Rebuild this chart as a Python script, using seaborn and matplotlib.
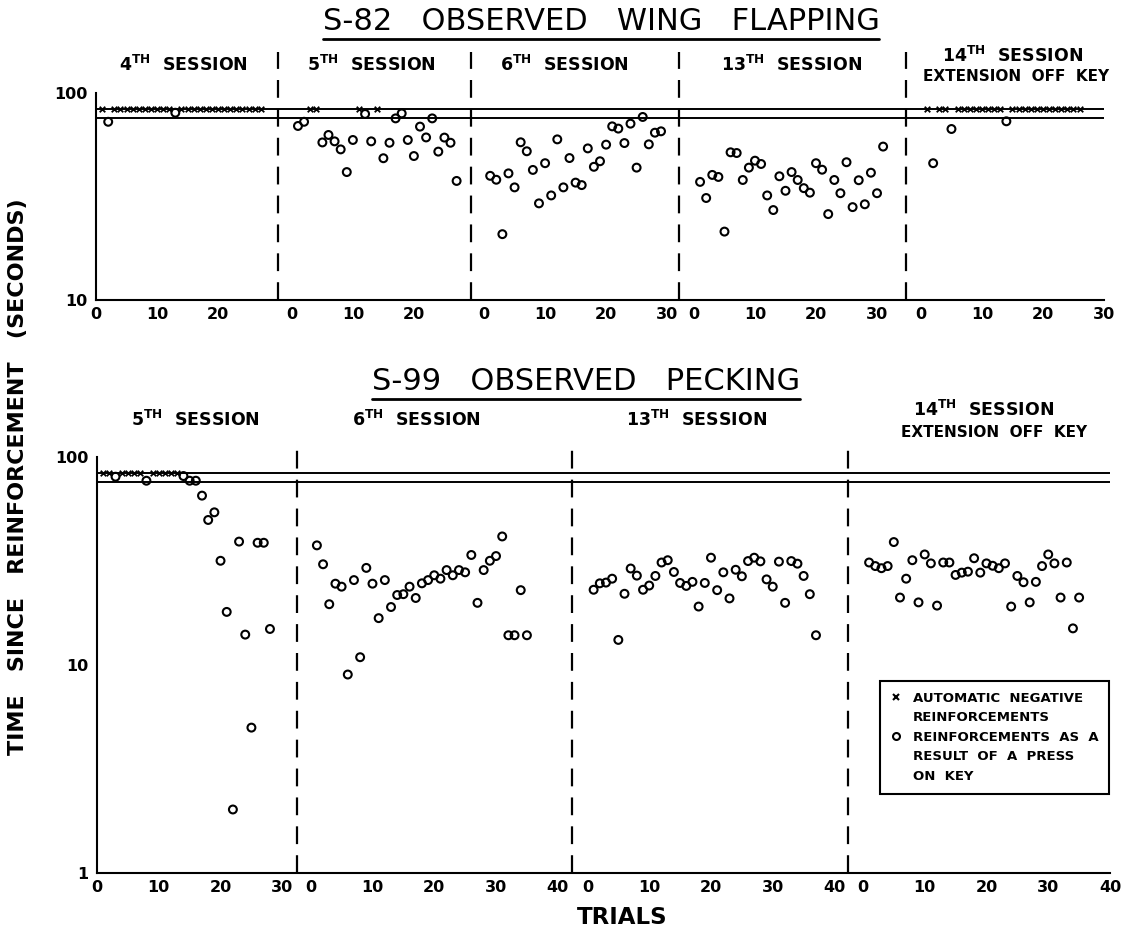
import matplotlib
matplotlib.use('Agg')
import matplotlib.pyplot as plt
from matplotlib.lines import Line2D
from matplotlib.ticker import LogLocator, NullFormatter
import pandas as pd
import seaborn as sns

# ---------------- data ----------------
AUTO_TIME = 84     # automatic negative reinforcement happens at the time limit
UPPER_LINE = 84
LOWER_LINE = 76

# S-82 observed wing flapping
s82_4_press_trials = [2, 13]
s82_4_press_times = [72.6, 80.3]
s82_4_auto_trials = [1, 3, 4, 5, 6, 7, 8, 9, 10, 11, 12, 14, 15, 16, 17, 18, 19, 20,
                     21, 22, 23, 24, 25, 26, 27]

s82_5_press_trials = [1, 2, 5, 6, 7, 8, 9, 10, 12, 13, 15, 16, 17, 18, 19, 20, 21, 22,
                      23, 24, 25, 26, 27]
s82_5_press_times = [69.3, 72.6, 57.7, 62.7, 58.4, 53.4, 41.5, 59.3, 79.2, 58.4, 48.4,
                     57.5, 75.4, 79.7, 59.3, 49.6, 68.8, 61.0, 75.4, 52.1, 60.9, 57.5, 37.6]
s82_5_auto_trials = [3, 4, 11, 14]

s82_6_press_trials = list(range(1, 30))
s82_6_press_times = [39.8, 38.1, 20.8, 40.9, 35.0, 57.8, 52.3, 42.5, 29.3, 45.8, 32.0,
                     59.7, 35.0, 48.5, 36.9, 35.9, 54.0, 44.0, 46.8, 56.3, 69.0, 67.3,
                     57.3, 71.1, 43.6, 76.6, 56.5, 64.3, 65.3]
s82_6_auto_trials = []

s82_13_press_trials = list(range(1, 32))
s82_13_press_times = [37.2, 31.1, 40.2, 39.3, 21.4, 51.7, 51.3, 38.0, 43.6, 47.1, 45.4,
                      32.0, 27.2, 39.6, 33.7, 41.5, 38.0, 34.7, 33.0, 45.8, 42.6, 26.0,
                      38.0, 32.8, 46.3, 28.1, 37.9, 29.0, 41.2, 32.8, 55.1]
s82_13_auto_trials = []

s82_14_press_trials = [2, 5, 14]
s82_14_press_times = [45.8, 67.0, 73.0]
s82_14_auto_trials = [1, 3, 4, 6, 7, 8, 9, 10, 11, 12, 13, 15, 16, 17, 18, 19, 20, 21,
                      22, 23, 24, 25, 26]

# S-99 observed pecking
s99_5_press_trials = [3, 8, 14, 15, 16, 17, 18, 19, 20, 21, 22, 23, 24, 25, 26, 27, 28]
s99_5_press_times = [80.4, 76.9, 81.0, 76.9, 76.9, 65.2, 49.8, 54.2, 31.7, 18.0, 2.02,
                     39.2, 14.0, 5.0, 38.7, 38.7, 14.9]
s99_5_auto_trials = [1, 2, 4, 5, 6, 7, 9, 10, 11, 12, 13]

s99_6_press_trials = list(range(1, 36))
s99_6_press_times = [37.6, 30.5, 19.6, 24.6, 23.8, 9.0, 25.6, 10.9, 29.3, 24.6, 16.8,
                     25.6, 19.0, 21.7, 21.9, 23.8, 21.0, 24.7, 25.6, 27.0, 26.0, 28.6,
                     27.0, 28.6, 27.9, 33.8, 19.9, 28.6, 31.7, 33.4, 41.5, 13.9, 13.9,
                     22.9, 13.9]
s99_6_auto_trials = []

s99_13_press_trials = list(range(1, 38))
s99_13_press_times = [23.0, 24.7, 24.9, 26.0, 13.2, 22.0, 29.1, 26.9, 23.0, 24.1, 26.8,
                      31.1, 31.9, 28.0, 24.8, 24.0, 25.1, 19.1, 24.8, 32.8, 22.9, 27.9,
                      20.9, 28.7, 26.7, 31.6, 32.8, 31.5, 25.8, 23.8, 31.4, 19.9, 31.6,
                      30.7, 26.8, 21.9, 13.9]
s99_13_auto_trials = []

s99_14_press_trials = list(range(1, 36))
s99_14_press_times = [31.1, 29.9, 29.2, 29.9, 39.0, 21.1, 26.0, 31.9, 20.0, 34.0, 30.8,
                      19.3, 31.1, 31.1, 27.1, 27.8, 28.1, 32.6, 27.8, 30.8, 30.0, 29.2,
                      30.8, 19.1, 26.8, 25.0, 20.0, 25.1, 29.9, 34.0, 30.8, 21.1, 31.1,
                      15.0, 21.1]
s99_14_auto_trials = []

s82_sessions = {
    '4': (s82_4_press_trials, s82_4_press_times, s82_4_auto_trials),
    '5': (s82_5_press_trials, s82_5_press_times, s82_5_auto_trials),
    '6': (s82_6_press_trials, s82_6_press_times, s82_6_auto_trials),
    '13': (s82_13_press_trials, s82_13_press_times, s82_13_auto_trials),
    '14': (s82_14_press_trials, s82_14_press_times, s82_14_auto_trials),
}
s99_sessions = {
    '5': (s99_5_press_trials, s99_5_press_times, s99_5_auto_trials),
    '6': (s99_6_press_trials, s99_6_press_times, s99_6_auto_trials),
    '13': (s99_13_press_trials, s99_13_press_times, s99_13_auto_trials),
    '14': (s99_14_press_trials, s99_14_press_times, s99_14_auto_trials),
}

# ---------------- layout of the sessions along each x axis ----------------
s82_offsets = {'4': 0, '5': 32.1, '6': 63.6, '13': 98.0, '14': 135.2}
s82_ticks = {'4': [0, 10, 20], '5': [0, 10, 20], '6': [0, 10, 20, 30],
             '13': [0, 10, 20, 30], '14': [0, 10, 20, 30]}
s82_seps = [29.8, 61.5, 95.6, 132.8]
s82_xmax = 165.2

s99_offsets = {'5': 0, '6': 34.6, '13': 79.4, '14': 124.0}
s99_ticks = {'5': [0, 10, 20, 30], '6': [0, 10, 20, 30, 40],
             '13': [0, 10, 20, 30, 40], '14': [0, 10, 20, 30, 40]}
s99_seps = [32.3, 76.9, 121.6]
s99_xmax = 164.0


def make_df(sessions, offsets):
    rows = []
    for sess, (p_tr, p_t, a_tr) in sessions.items():
        for tr, t in zip(p_tr, p_t):
            rows.append({'session': sess, 'trial': tr, 'time': t, 'kind': 'press'})
        for tr in a_tr:
            rows.append({'session': sess, 'trial': tr, 'time': AUTO_TIME, 'kind': 'auto'})
    df = pd.DataFrame(rows)
    df['pos'] = df['session'].map(offsets) + df['trial']
    return df


sns.set_theme(style='white', rc={'axes.edgecolor': 'black', 'axes.linewidth': 1.5,
                                 'xtick.color': 'black', 'ytick.color': 'black',
                                 'text.color': 'black', 'axes.labelcolor': 'black'})
plt.rcParams['font.family'] = ['DejaVu Sans']
plt.rcParams['font.weight'] = 'bold'
plt.rcParams['mathtext.default'] = 'bf'

W, H = 1131, 942
fig = plt.figure(figsize=(W / 100, H / 100), dpi=100)
ax1 = fig.add_axes([96 / W, 1 - 300 / H, 1008 / W, 207 / H])
ax2 = fig.add_axes([97 / W, 1 - 873 / H, 1013 / W, 416 / H])


def draw_panel(ax, sessions, offsets, ticks, seps, xmax, ylim, yticks, sep_top):
    df = make_df(sessions, offsets)
    press = df[df['kind'] == 'press']
    auto = df[df['kind'] == 'auto']
    ax.axhline(UPPER_LINE, color='black', lw=1.4, zorder=1)
    ax.axhline(LOWER_LINE, color='black', lw=1.4, zorder=1)
    sns.scatterplot(data=press, x='pos', y='time', marker='o', s=32,
                    facecolors='none', edgecolor='black', linewidth=1.5,
                    legend=False, ax=ax, zorder=3)
    if len(auto):
        sns.scatterplot(data=auto, x='pos', y='time', marker='x', s=16,
                        color='black', linewidth=1.3, legend=False, ax=ax, zorder=3)
    for s in seps:
        ax.axvline(s, ymin=0, ymax=sep_top, color='black', lw=1.6,
                   linestyle=(0, (8, 5)), clip_on=False)
    ax.set_yscale('log')
    ax.set_ylim(*ylim)
    ax.set_xlim(0, xmax)
    ax.set_yticks(yticks, labels=[str(v) for v in yticks])
    ax.yaxis.set_minor_locator(LogLocator(base=10, subs=range(2, 10)))
    ax.yaxis.set_minor_formatter(NullFormatter())
    pos, lab = [], []
    for sess, tk in ticks.items():
        for t in tk:
            pos.append(offsets[sess] + t)
            lab.append(str(t))
    ax.set_xticks(pos, labels=lab)
    ax.set_xticks(seps, minor=True)
    ax.tick_params(axis='x', which='major', direction='in', length=11, width=1.5,
                   labelsize=11.5, pad=5)
    ax.tick_params(axis='x', which='minor', direction='in', length=17, width=1.5)
    ax.tick_params(axis='y', which='major', direction='in', length=11, width=1.5,
                   labelsize=11.5, pad=6)
    ax.tick_params(axis='y', which='minor', direction='in', length=6, width=1.2)
    ax.set_xlabel('')
    ax.set_ylabel('')
    sns.despine(ax=ax)


draw_panel(ax1, s82_sessions, s82_offsets, s82_ticks, s82_seps, s82_xmax,
           (10, 100), [10, 100], 1.2)
draw_panel(ax2, s99_sessions, s99_offsets, s99_ticks, s99_seps, s99_xmax,
           (1, 100), [1, 10, 100], 1.025)

# session headings
lab_kw = dict(ha='center', va='center', fontsize=12.5, fontweight='bold')
t1 = ax1.get_xaxis_transform()
ax1.text(14.3, 1.135, r'$4^{TH}$  SESSION', transform=t1, **lab_kw)
ax1.text(45.2, 1.135, r'$5^{TH}$  SESSION', transform=t1, **lab_kw)
ax1.text(76.8, 1.135, r'$6^{TH}$  SESSION', transform=t1, **lab_kw)
ax1.text(114.0, 1.135, r'$13^{TH}$  SESSION', transform=t1, **lab_kw)
ax1.text(150.2, 1.18, r'$14^{TH}$  SESSION', transform=t1, **lab_kw)
ax1.text(150.8, 1.082, 'EXTENSION  OFF  KEY', transform=t1, ha='center', va='center',
         fontsize=11, fontweight='bold')

t2 = ax2.get_xaxis_transform()
ax2.text(16.0, 1.089, r'$5^{TH}$  SESSION', transform=t2, **lab_kw)
ax2.text(51.8, 1.089, r'$6^{TH}$  SESSION', transform=t2, **lab_kw)
ax2.text(97.0, 1.089, r'$13^{TH}$  SESSION', transform=t2, **lab_kw)
ax2.text(143.5, 1.113, r'$14^{TH}$  SESSION', transform=t2, **lab_kw)
ax2.text(145.2, 1.060, 'EXTENSION  OFF  KEY', transform=t2, ha='center', va='center',
         fontsize=11, fontweight='bold')

# panel titles (underlined)
title1 = fig.text(601 / W, 1 - 22 / H, 'S-82   OBSERVED   WING   FLAPPING',
                  ha='center', va='center', fontsize=22, fontweight='normal')
title2 = fig.text(586 / W, 1 - 382 / H, 'S-99   OBSERVED   PECKING',
                  ha='center', va='center', fontsize=22, fontweight='normal')

fig.text(18 / W, 1 - 477 / H, 'TIME   SINCE   REINFORCEMENT   (SECONDS)', rotation=90,
         ha='center', va='center', fontsize=16, fontweight='bold')
fig.text(622 / W, 1 - 918 / H, 'TRIALS', ha='center', va='center', fontsize=16.5,
         fontweight='bold')

# legend
handles = [
    Line2D([], [], ls='none', marker='x', color='black', markersize=5, mew=1.5),
    Line2D([], [], ls='none'),
    Line2D([], [], ls='none', marker='o', mfc='none', mec='black', markersize=5, mew=1.5),
    Line2D([], [], ls='none'),
    Line2D([], [], ls='none'),
]
labels = ['AUTOMATIC  NEGATIVE', 'REINFORCEMENTS', 'REINFORCEMENTS  AS  A',
          'RESULT  OF  A  PRESS', 'ON  KEY']
leg = ax2.legend(handles, labels, loc='upper left', bbox_to_anchor=(880 / W, 1 - 681 / H),
                 bbox_transform=fig.transFigure, frameon=True, fancybox=False,
                 edgecolor='black', framealpha=1, borderaxespad=0,
                 prop={'weight': 'bold', 'size': 9.5}, handlelength=0.8,
                 handletextpad=0.9, labelspacing=0.5, borderpad=0.8)
leg.get_frame().set_linewidth(1.5)

# underline the titles
fig.canvas.draw()
inv = fig.transFigure.inverted()
for t in (title1, title2):
    bb = t.get_window_extent()
    (x0, y0), (x1, _) = inv.transform([(bb.x0, bb.y0 - 2), (bb.x1, bb.y0 - 2)])
    fig.add_artist(Line2D([x0, x1], [y0, y0], transform=fig.transFigure,
                          color='black', lw=2))

fig.savefig('out.png', dpi=100, facecolor='white')
